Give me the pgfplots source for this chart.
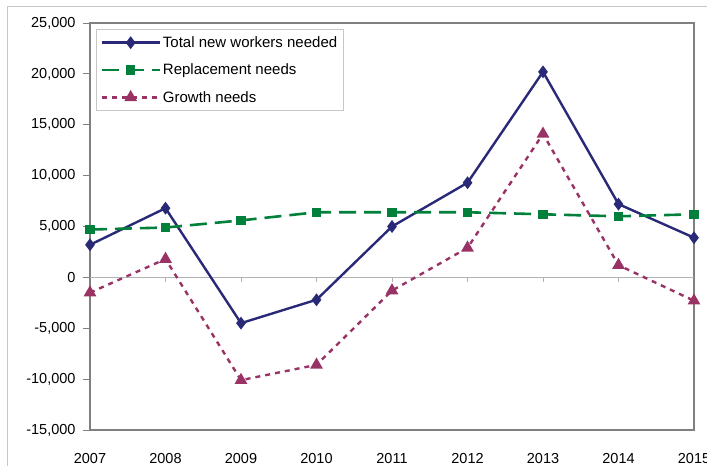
\documentclass[border=0pt]{standalone}
\usepackage{fontspec}
\setmainfont{Liberation Sans}
\usepackage{pgfplots}
\pgfplotsset{compat=1.18}
\definecolor{navy}{RGB}{41,41,120}
\definecolor{rgreen}{RGB}{0,128,58}
\definecolor{rpurple}{RGB}{153,51,102}
\definecolor{framegray}{RGB}{128,128,128}
\begin{document}
\begin{tikzpicture}
\clip (0bp,0bp) rectangle (707bp,466bp);
\draw[gray!45, line width=1bp] (7bp,-20bp) -- (7bp,459bp) -- (730bp,459bp);
\begin{axis}[
  at={(90bp,36bp)}, anchor=south west,
  scale only axis, width=604bp, height=407bp,
  xmin=2007, xmax=2015, ymin=-15000, ymax=25000,
  scaled y ticks=false,
  xtick={2007,2008,2009,2010,2011,2012,2013,2014,2015},
  xticklabels={2007,2008,2009,2010,2011,2012,2013,2014,2015},
  ytick={-15000,-10000,-5000,0,5000,10000,15000,20000,25000},
  yticklabels={{-15,000},{-10,000},{-5,000},0,{5,000},{10,000},{15,000},{20,000},{25,000}},
  xtick style={draw=none},
  ytick style={draw=framegray, line width=0.8bp},
  tick align=outside, major tick length=7bp,
  tick pos=left,
  axis line style={draw=framegray, line width=1.6bp},
  tick label style={font=\fontsize{14.5bp}{17bp}\selectfont},
  yticklabel style={xshift=-4bp},
  xticklabel style={yshift=-13bp},
  legend style={at={(0.0099,0.985)}, anchor=north west, draw=gray!45, line width=0.8bp,
    fill=white, font=\fontsize{15bp}{18bp}\selectfont, inner xsep=4bp, inner ysep=5bp,
    row sep=11bp, cells={anchor=west}},
  legend cell align=left,
  legend image code/.code={\draw[mark repeat=2,mark phase=2] plot coordinates {(0bp,0bp) (29bp,0bp) (58bp,0bp)};},
]
\draw[gray!60, line width=0.8bp] (axis cs:2007,0) -- (axis cs:2015,0);
\pgfplotsinvokeforeach{2008,2009,2010,2011,2012,2013,2014}{
  \draw[gray!60, line width=0.8bp] (axis cs:#1,0) -- ++(0bp,-5bp);
}
\addplot[navy, line width=2.4bp, mark=diamond*, mark size=4.5bp, mark options={solid}]
  coordinates {(2007,3200) (2008,6800) (2009,-4500) (2010,-2200) (2011,5000) (2012,9300) (2013,20200) (2014,7200) (2015,3900)};
\addlegendentry{Total new workers needed}
\addplot[rgreen, line width=2.6bp, dash pattern=on 17bp off 8bp, mark=square*, mark size=3.4bp, mark options={solid}]
  coordinates {(2007,4700) (2008,4900) (2009,5600) (2010,6400) (2011,6400) (2012,6400) (2013,6200) (2014,6000) (2015,6200)};
\addlegendentry{Replacement needs}
\addplot[rpurple, line width=2.4bp, dash pattern=on 5bp off 5bp, mark=triangle*, mark size=5bp, mark options={solid}]
  coordinates {(2007,-1500) (2008,1800) (2009,-10100) (2010,-8600) (2011,-1300) (2012,2900) (2013,14100) (2014,1200) (2015,-2300)};
\addlegendentry{Growth needs}
\end{axis}
\end{tikzpicture}
\end{document}
